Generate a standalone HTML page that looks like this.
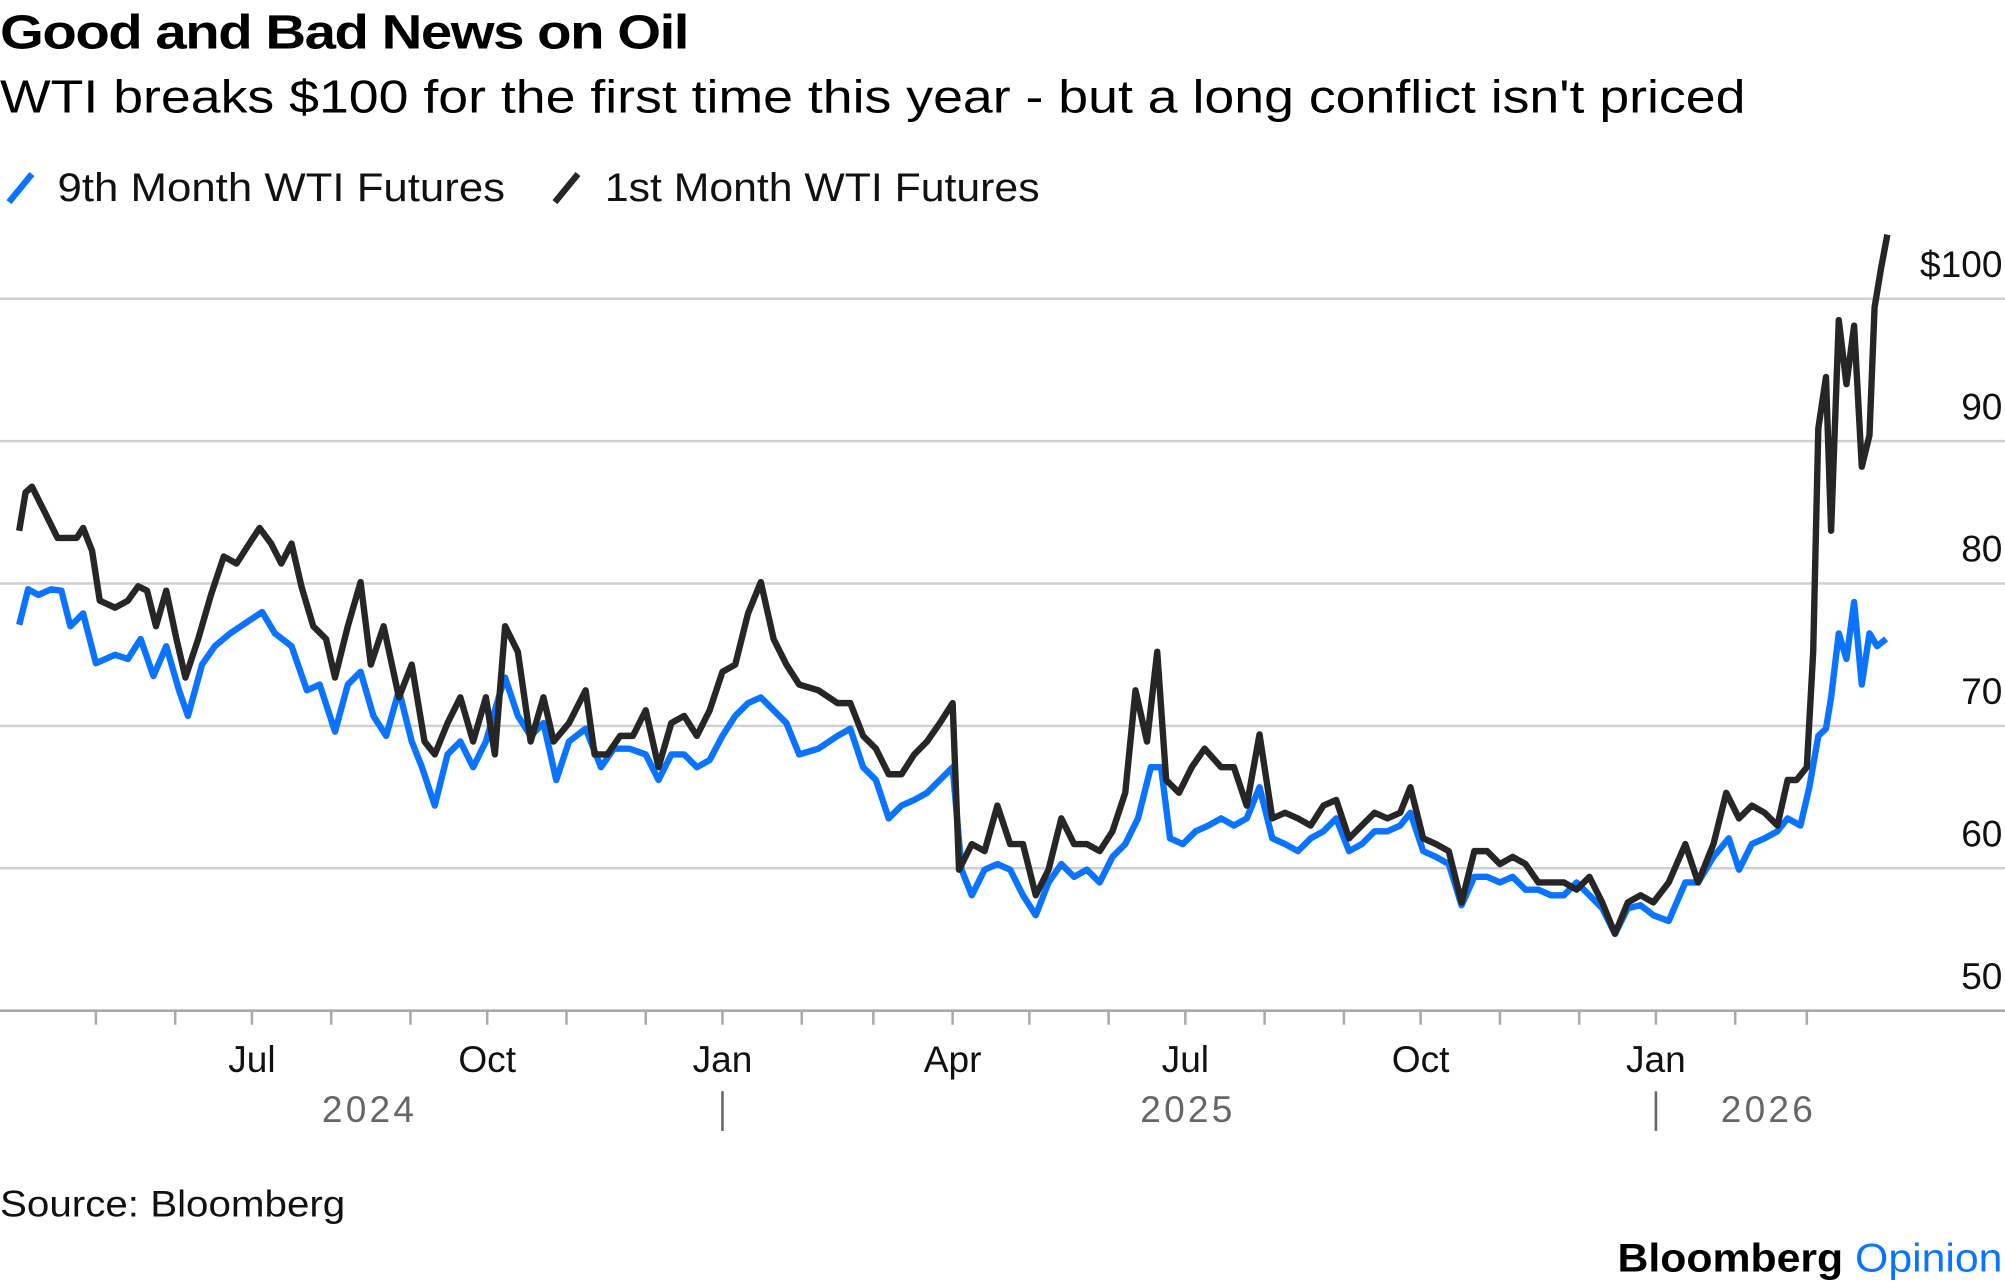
<!DOCTYPE html>
<html><head><meta charset="utf-8"><style>
html,body{margin:0;padding:0;background:#fff;}
svg{display:block;font-family:"Liberation Sans",sans-serif;}
</style></head><body>
<svg id="chart" width="2005" height="1287" viewBox="0 0 1568 1006" preserveAspectRatio="none" xmlns="http://www.w3.org/2000/svg">
<text x="0" y="38" font-size="38" font-weight="bold" letter-spacing="-1" fill="#000" textLength="538" lengthAdjust="spacingAndGlyphs">Good and Bad News on Oil</text>
<text x="0" y="88" font-size="36" fill="#000" textLength="1365" lengthAdjust="spacingAndGlyphs">WTI breaks $100 for the first time this year - but a long conflict isn't priced</text>
<g>
<g><line x1="7" y1="158" x2="25" y2="136" stroke="#0a73ff" stroke-width="5"/><text x="45" y="157" font-size="31" fill="#111" textLength="350" lengthAdjust="spacingAndGlyphs">9th Month WTI Futures</text></g>
<g><line x1="434" y1="158" x2="452" y2="136" stroke="#262626" stroke-width="5"/><text x="473" y="157" font-size="31" fill="#111" textLength="340" lengthAdjust="spacingAndGlyphs">1st Month WTI Futures</text></g>
</g>
<g id="grid"></g>
<g id="yaxis"></g>
<g id="xaxis"></g>
<g id="series"></g>
<text x="0" y="951" font-size="29" fill="#111" textLength="270" lengthAdjust="spacingAndGlyphs">Source: Bloomberg</text>
<text x="1265" y="994" font-size="31" font-weight="bold" fill="#000" textLength="301" lengthAdjust="spacingAndGlyphs">Bloomberg <tspan fill="#0a73ff" font-weight="normal">Opinion</tspan></text>
</svg>
<script>
// days since 2024-04-01
const yTicks = [50,60,70,80,90,100];
const yTickLabels = ["50","60","70","80","90","$100"];
const monthTickDays = [30,61,91,122,153,183,214,245,275,306,334,365,395,426,456,487,518,548,579,610,640,671,699];
const monthLabels = ["","","Jul","","","Oct","","","Jan","","","Apr","","","Jul","","","Oct","","","Jan","",""];
const yearLabels = ["2024","2025","2026"];
const yearLabelDays = [137,457,684];
const yearSepDays = [275,640];
const frontDays = [0,2.5,5,10,15,22.5,25,28.5,31.5,37.5,42.5,46.5,50,53.5,57.5,61.5,65,70,75,80,85,90,94,98.5,102.5,106.5,110.5,115,120,123.5,128.5,133.5,137.5,142.5,148.5,153.5,158.5,162.5,167.5,172.5,177.5,182.5,186,190,195,200,205,209,215,221.5,225,230,235,240,245,250,255,260,265,270,275,280,285,290,295,300,305,312.5,320,325,330,335,340,345,350,355,360,365,367.5,372.5,377.5,382.5,387.5,392.5,397.5,402.5,407.5,412.5,417.5,422.5,427.5,432.5,436.5,441,445,448.5,453.5,458.5,463.5,470,475,480,485,490,495,500,505,510,515,520,525,530,535,540,544,549,554,559,564,569,574,579,584,589,594,599,604,609,614,619,624,629,634,639,645,651.5,656.5,662.5,667.5,672.5,677.5,682.5,687.5,691.5,695,699,701.5,703.5,706.5,708.5,711.5,714.5,717.5,720.5,723.5,725.5,728,730.5];
const frontPrices = [83.7,86.4,86.8,85,83.2,83.2,83.9,82.3,78.8,78.3,78.8,79.8,79.5,77.0,79.5,76.1,73.4,76.1,79.2,81.9,81.4,82.8,83.9,82.8,81.4,82.8,79.7,77.0,76.1,73.4,77.0,80.1,74.3,77.0,72.0,74.3,68.9,68.0,70.2,72.0,68.9,72.0,68.0,77.0,75.2,68.9,72.0,68.9,70.2,72.5,68.0,68.0,69.3,69.3,71.1,67.1,70.2,70.7,69.3,71.1,73.8,74.3,77.9,80.1,76.1,74.3,72.9,72.5,71.6,71.6,69.3,68.4,66.6,66.6,68.0,68.9,70.2,71.6,59.9,61.7,61.2,64.4,61.7,61.7,58.1,59.9,63.5,61.7,61.7,61.2,62.6,65.3,72.5,68.9,75.2,66.2,65.3,67.1,68.4,67.1,67.1,64.4,69.4,63.5,63.9,63.5,63.0,64.4,64.8,62.1,63.0,63.9,63.5,63.9,65.7,62.1,61.7,61.2,57.6,61.2,61.2,60.3,60.8,60.3,59.0,59.0,59.0,58.5,59.4,57.6,55.4,57.6,58.1,57.6,59.0,61.7,59.0,61.7,65.3,63.5,64.4,63.9,63.0,66.2,66.2,67.1,75.2,90.9,94.5,83.7,98.5,94.0,98.1,88.2,90.4,99.4,102.1,104.5];
const ninthDays = [0,3.5,7.5,12.5,16.5,20,25,30,37.5,42.5,47.5,52.5,57.5,62.5,66,71.5,76.5,82.5,90,95,100,106.5,112.5,117.5,123.5,128.5,133.5,138.5,143.5,148.5,153.5,157.5,162.5,167.5,172.5,177.5,182.5,187.5,190,195,200,205,210,215,221.5,227.5,232.5,238.5,245,250,255,260,265,270,275,280,285,290,295,300,305,312.5,320,325,330,335,340,345,350,355,360,365,368.5,372.5,377.5,382.5,387.5,392.5,397.5,402.5,407.5,412.5,417.5,422.5,427.5,432.5,437.5,442.5,446.5,450,455,460,465,470,475,480,485,490,495,500,505,510,515,520,525,530,535,540,544,549,554,559,564,569,574,579,584,589,594,599,604,609,614,619,624,629,634,639,645,651.5,656.5,662.5,668.5,672.5,677.5,682.5,687.5,691.5,696.5,700,703.5,706.5,708.5,711.5,714.5,717.5,720.5,723.5,726.5,730];
const ninthPrices = [77.1,79.6,79.2,79.6,79.5,77.0,77.9,74.4,75.0,74.7,76.1,73.5,75.6,72.5,70.7,74.3,75.6,76.5,77.4,78.0,76.5,75.6,72.5,72.9,69.6,72.9,73.8,70.7,69.3,72.5,68.9,67.1,64.4,68.0,68.9,67.1,68.9,72.0,73.4,70.7,69.3,70.2,66.2,68.9,69.8,67.1,68.4,68.4,68.0,66.2,68.0,68.0,67.1,67.6,69.3,70.7,71.6,72.0,71.1,70.2,68.0,68.4,69.3,69.8,67.1,66.2,63.5,64.4,64.8,65.3,66.2,67.1,59.9,58.1,59.9,60.3,59.9,58.1,56.7,59.0,60.3,59.4,59.9,59.0,60.8,61.7,63.5,67.1,67.1,62.1,61.7,62.6,63.0,63.5,63.0,63.5,65.7,62.1,61.7,61.2,62.1,62.6,63.5,61.2,61.7,62.6,62.6,63.0,63.9,61.2,60.8,60.3,57.4,59.4,59.4,59.0,59.4,58.5,58.5,58.1,58.1,59.0,58.1,57.2,55.4,57.2,57.4,56.7,56.3,59.0,59.0,60.8,62.1,59.9,61.7,62.1,62.6,63.5,63.0,65.7,69.3,69.8,72.0,76.5,74.7,78.7,72.9,76.5,75.6,76.1];

const NS="http://www.w3.org/2000/svg";
function xS(d){return 15 + d*2.0;}
function yS(v){return 790 - (v-50)*11.13;}
function mk(tag,attrs,parent){const e=document.createElementNS(NS,tag);for(const k in attrs)e.setAttribute(k,attrs[k]);parent.appendChild(e);return e;}
const grid=document.getElementById('grid'), yax=document.getElementById('yaxis'), xax=document.getElementById('xaxis'), ser=document.getElementById('series');
yTicks.forEach((v,i)=>{
  const l=mk('line',{x1:0,x2:1568,y1:yS(v),y2:yS(v),stroke:v===50?'#aaa':'#d0d0d0','stroke-width':2},grid);
  
  
  const t=mk('text',{x:1566,y:yS(v)-17,'font-size':29,'text-anchor':'end',fill:'#111'},yax);
  t.textContent=yTickLabels[i];
  
  
});
monthTickDays.forEach((d,i)=>{
  const tk=mk('line',{x1:xS(d),x2:xS(d),y1:790,y2:801,stroke:'#aaa','stroke-width':2},xax);
  
  
  if(monthLabels[i]){
    const t=mk('text',{x:xS(d),y:838,'font-size':29,'text-anchor':'middle',fill:'#111'},xax);
    t.textContent=monthLabels[i];
    
    
  }
});
yearLabels.forEach((y,i)=>{
  const t=mk('text',{x:xS(yearLabelDays[i]),y:877,'font-size':29,'text-anchor':'middle',fill:'#666','letter-spacing':2.5},xax);
  t.textContent=y;
  
  
});
yearSepDays.forEach(d=>{
  const s=mk('line',{x1:xS(d),x2:xS(d),y1:853,y2:884,stroke:'#666','stroke-width':2},xax);
  
  
});
function path(days,vals){return days.map((d,i)=>(i?'L':'M')+xS(d).toFixed(1)+','+yS(vals[i]).toFixed(1)).join(' ');}
const p1=mk('path',{d:path(ninthDays,ninthPrices),fill:'none',stroke:'#0a73ff','stroke-width':5,'stroke-linejoin':'round'},ser);


const p2=mk('path',{d:path(frontDays,frontPrices),fill:'none',stroke:'#262626','stroke-width':5,'stroke-linejoin':'round'},ser);


</script>
</body></html>
